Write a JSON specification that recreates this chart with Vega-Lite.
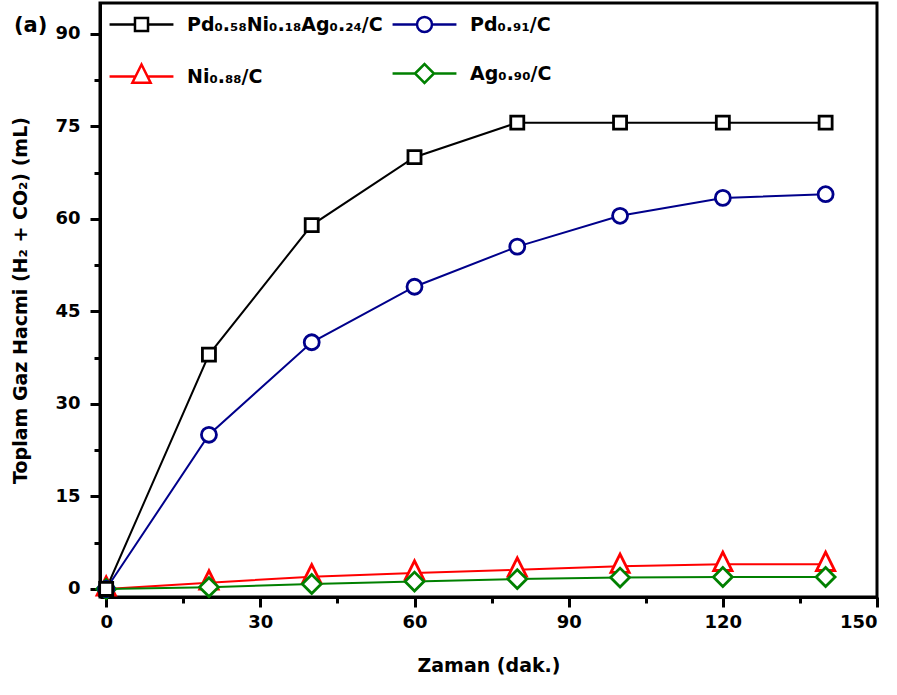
{
  "$schema": "https://vega.github.io/schema/vega-lite/v6.json",
  "width": 777,
  "height": 594,
  "autosize": {"type": "none"},
  "padding": {"left": 100, "top": 3, "right": 20, "bottom": 98},
  "background": "white",
  "config": {
    "font": "DejaVu Sans",
    "view": {"stroke": "black", "strokeWidth": 3},
    "legend": {"gridAlign": "none"},
    "axis": {
      "grid": false,
      "domainColor": "black",
      "domainWidth": 3,
      "tickColor": "black",
      "tickWidth": 3,
      "labelFont": "DejaVu Sans",
      "labelFontSize": 18,
      "labelFontWeight": "bold",
      "labelColor": "black",
      "titleFont": "DejaVu Sans",
      "titleFontSize": 19,
      "titleFontWeight": "bold",
      "titleColor": "black"
    }
  },
  "title": {
    "text": "(a)",
    "anchor": "start",
    "frame": "group",
    "orient": "top",
    "offset": 0,
    "baseline": "middle",
    "dx": -86,
    "dy": 44,
    "fontSize": 21,
    "fontWeight": "bold",
    "font": "DejaVu Sans",
    "color": "black"
  },
  "data": {
    "values": [
      {"series": "Ni₀.₈₈/C", "t": 0, "v": 0},
      {"series": "Ni₀.₈₈/C", "t": 20, "v": 1.0},
      {"series": "Ni₀.₈₈/C", "t": 40, "v": 2.0},
      {"series": "Ni₀.₈₈/C", "t": 60, "v": 2.6},
      {"series": "Ni₀.₈₈/C", "t": 80, "v": 3.1},
      {"series": "Ni₀.₈₈/C", "t": 100, "v": 3.7},
      {"series": "Ni₀.₈₈/C", "t": 120, "v": 4.0},
      {"series": "Ni₀.₈₈/C", "t": 140, "v": 4.0},
      {"series": "Ag₀.₉₀/C", "t": 0, "v": 0},
      {"series": "Ag₀.₉₀/C", "t": 20, "v": 0.3},
      {"series": "Ag₀.₉₀/C", "t": 40, "v": 0.8},
      {"series": "Ag₀.₉₀/C", "t": 60, "v": 1.2},
      {"series": "Ag₀.₉₀/C", "t": 80, "v": 1.6},
      {"series": "Ag₀.₉₀/C", "t": 100, "v": 1.85},
      {"series": "Ag₀.₉₀/C", "t": 120, "v": 1.95},
      {"series": "Ag₀.₉₀/C", "t": 140, "v": 1.95},
      {"series": "Pd₀.₉₁/C", "t": 0, "v": 0},
      {"series": "Pd₀.₉₁/C", "t": 20, "v": 25.0},
      {"series": "Pd₀.₉₁/C", "t": 40, "v": 40.0},
      {"series": "Pd₀.₉₁/C", "t": 60, "v": 49.0},
      {"series": "Pd₀.₉₁/C", "t": 80, "v": 55.5},
      {"series": "Pd₀.₉₁/C", "t": 100, "v": 60.5},
      {"series": "Pd₀.₉₁/C", "t": 120, "v": 63.4},
      {"series": "Pd₀.₉₁/C", "t": 140, "v": 64.0},
      {"series": "Pd₀.₅₈Ni₀.₁₈Ag₀.₂₄/C", "t": 0, "v": 0},
      {"series": "Pd₀.₅₈Ni₀.₁₈Ag₀.₂₄/C", "t": 20, "v": 38.0},
      {"series": "Pd₀.₅₈Ni₀.₁₈Ag₀.₂₄/C", "t": 40, "v": 59.0},
      {"series": "Pd₀.₅₈Ni₀.₁₈Ag₀.₂₄/C", "t": 60, "v": 70.0},
      {"series": "Pd₀.₅₈Ni₀.₁₈Ag₀.₂₄/C", "t": 80, "v": 75.6},
      {"series": "Pd₀.₅₈Ni₀.₁₈Ag₀.₂₄/C", "t": 100, "v": 75.6},
      {"series": "Pd₀.₅₈Ni₀.₁₈Ag₀.₂₄/C", "t": 120, "v": 75.6},
      {"series": "Pd₀.₅₈Ni₀.₁₈Ag₀.₂₄/C", "t": 140, "v": 75.6}
    ]
  },
  "encoding": {
    "x": {
      "field": "t",
      "type": "quantitative",
      "scale": {"domain": [-1.2, 150], "nice": false, "zero": false},
      "axis": {
        "title": "Zaman (dak.)",
        "values": [0, 15, 30, 45, 60, 75, 90, 105, 120, 135, 150],
        "labelExpr": "datum.value % 30 === 0 ? datum.label : ''",
        "tickSize": {"condition": {"test": "datum.value % 30 === 0", "value": 10}, "value": 6},
        "labelPadding": 6,
        "titlePadding": 25
      }
    },
    "y": {
      "field": "v",
      "type": "quantitative",
      "scale": {"domain": [-1.3, 95], "nice": false, "zero": false},
      "axis": {
        "title": "Toplam Gaz Hacmi (H₂ + CO₂) (mL)",
        "values": [0, 7.5, 15, 22.5, 30, 37.5, 45, 52.5, 60, 67.5, 75, 82.5, 90],
        "labelExpr": "datum.value % 15 === 0 ? datum.label : ''",
        "tickSize": {"condition": {"test": "datum.value % 15 === 0", "value": 10}, "value": 6},
        "labelPadding": 10,
        "titlePadding": 24
      }
    }
  },
  "layer": [
    {
      "mark": {"type": "line", "strokeWidth": 2},
      "encoding": {
        "color": {
          "field": "series",
          "type": "nominal",
          "scale": {
            "domain": ["Pd₀.₅₈Ni₀.₁₈Ag₀.₂₄/C", "Pd₀.₉₁/C", "Ni₀.₈₈/C", "Ag₀.₉₀/C"],
            "range": ["#000000", "#00008B", "#FF0000", "#008000"]
          },
          "legend": null
        }
      }
    },
    {
      "mark": {"type": "point", "filled": false, "fill": "white", "strokeWidth": 2.8, "size": 170, "opacity": 1},
      "encoding": {
        "color": {
          "field": "series",
          "type": "nominal",
          "scale": {
            "domain": ["Pd₀.₅₈Ni₀.₁₈Ag₀.₂₄/C", "Pd₀.₉₁/C", "Ni₀.₈₈/C", "Ag₀.₉₀/C"],
            "range": ["#000000", "#00008B", "#FF0000", "#008000"]
          },
          "legend": null
        },
        "shape": {
          "field": "series",
          "type": "nominal",
          "scale": {
            "domain": ["Pd₀.₅₈Ni₀.₁₈Ag₀.₂₄/C", "Pd₀.₉₁/C", "Ni₀.₈₈/C", "Ag₀.₉₀/C"],
            "range": [
              "M-1,-1H1V1H-1Z",
              "M1.15,0A1.15,1.15,0,1,1,-1.15,0A1.15,1.15,0,1,1,1.15,0Z",
              "M0,-1.85L-1.4,0.95L1.4,0.95Z",
              "M-1.45,0L0,-1.45L1.45,0L0,1.45Z"
            ]
          },
          "legend": null
        }
      }
    },
    {
      "transform": [{"filter": "datum.t < 0"}],
      "mark": {"type": "point", "filled": false, "fill": "white", "strokeWidth": 2.5, "size": 170, "opacity": 1},
      "encoding": {
        "color": {
          "field": "series",
          "type": "nominal",
          "scale": {
            "domain": ["Pd₀.₅₈Ni₀.₁₈Ag₀.₂₄/C", "Pd₀.₉₁/C", "Ni₀.₈₈/C", "Ag₀.₉₀/C"],
            "range": ["#000000", "#00008B", "#FF0000", "#008000"]
          },
          "legend": {
            "title": null,
            "orient": "top-left",
            "direction": "horizontal",
            "offset": 12,
            "padding": 0,
            "columns": 2,
            "gridAlign": "none",
            "symbolOffset": 20,
            "labelOffset": 36,
            "rowPadding": 22,
            "columnPadding": 4,
            "symbolSize": 170,
            "symbolStrokeWidth": 2.5,
            "symbolFillColor": "white",
            "labelFont": "DejaVu Sans",
            "labelFontSize": 19,
            "labelFontWeight": "bold",
            "labelColor": "black",
            "labelLimit": 400
          }
        },
        "shape": {
          "field": "series",
          "type": "nominal",
          "scale": {
            "domain": ["Pd₀.₅₈Ni₀.₁₈Ag₀.₂₄/C", "Pd₀.₉₁/C", "Ni₀.₈₈/C", "Ag₀.₉₀/C"],
            "range": [
              "M-4.9,0H-1M1,0H4.9M-1,-1H1V1H-1Z",
              "M-4.9,0H-1.15M1.15,0H4.9M1.15,0A1.15,1.15,0,1,1,-1.15,0A1.15,1.15,0,1,1,1.15,0Z",
              "M-4.9,0H-0.95M0.95,0H4.9M0,-1.85L-1.4,0.95L1.4,0.95Z",
              "M-4.9,0H-1.45M1.45,0H4.9M-1.45,0L0,-1.45L1.45,0L0,1.45Z"
            ]
          },
          "legend": {
            "title": null,
            "orient": "top-left",
            "direction": "horizontal",
            "offset": 12,
            "padding": 0,
            "columns": 2,
            "gridAlign": "none",
            "symbolOffset": 20,
            "labelOffset": 36,
            "rowPadding": 22,
            "columnPadding": 4,
            "symbolSize": 170,
            "symbolStrokeWidth": 2.5,
            "symbolFillColor": "white",
            "labelFont": "DejaVu Sans",
            "labelFontSize": 19,
            "labelFontWeight": "bold",
            "labelColor": "black",
            "labelLimit": 400
          }
        }
      }
    }
  ],
  "resolve": {"scale": {"shape": "independent", "color": "independent"}}
}
